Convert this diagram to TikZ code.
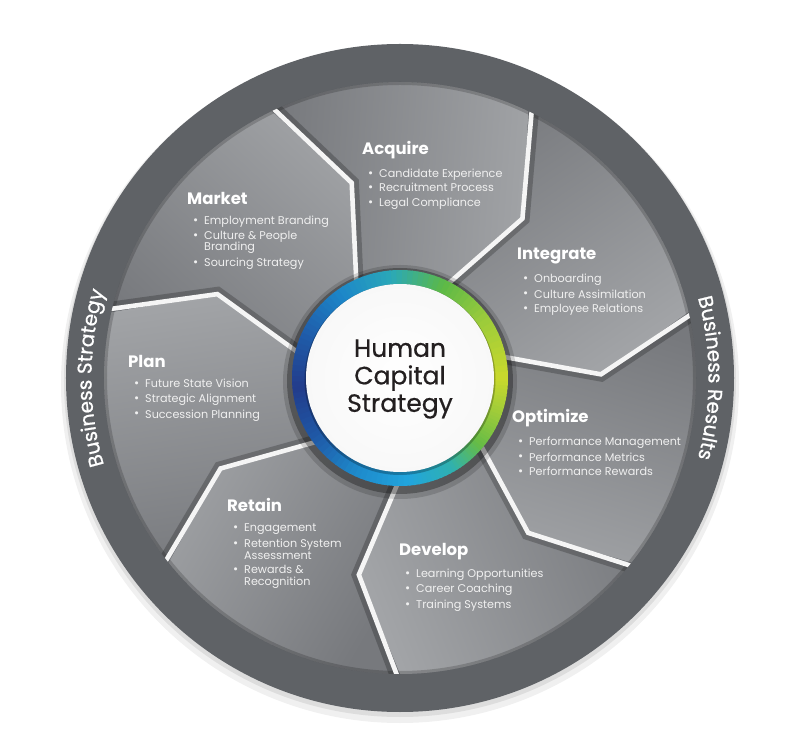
\documentclass[tikz,border=0pt]{standalone}
\usepackage{fontspec}
\setmainfont{Poppins}
\usetikzlibrary{decorations.text}
\definecolor{ringdark}{HTML}{5F6266}
\definecolor{segdark}{HTML}{77797D}
\definecolor{seglight}{HTML}{A2A4A7}
\definecolor{inktext}{HTML}{231F20}
\definecolor{rgA}{HTML}{C9D92C}
\definecolor{rgB}{HTML}{9BCB3B}
\definecolor{rgC}{HTML}{5CB947}
\definecolor{rgD}{HTML}{2AA8B8}
\definecolor{rgE}{HTML}{1C86C9}
\definecolor{rgF}{HTML}{1F5DAA}
\definecolor{rgG}{HTML}{223C8B}
\definecolor{rgH}{HTML}{1F58A6}
\definecolor{rgI}{HTML}{1E8ACB}
\definecolor{rgJ}{HTML}{21A5DD}
\definecolor{rgK}{HTML}{2FB1B0}
\definecolor{rgL}{HTML}{66BC46}
\definecolor{rgM}{HTML}{9ECB3A}
\pgfdeclareradialshading{hubshade}{\pgfpoint{0bp}{0bp}}{color(0bp)=(white); color(28bp)=(white!97!black); color(44bp)=(black!9); color(50bp)=(black!20)}
\newcommand\mytitle[1]{\hbox{\fontsize{16.5}{17}\selectfont\bfseries\color{white}#1}\vskip 8.5pt}
\newcommand\myitem[1]{\hbox{\hbox to 17pt{\kern6pt\fontsize{12.5}{12}\selectfont\raisebox{0.2pt}{•}\hss}#1}}
\newcommand\mycont[1]{\hbox{\kern17pt #1}}
\newcommand\mygap{\vskip 3pt}
\newcommand\mybody{\fontsize{11.2}{11.5}\selectfont}
\tikzset{
  seglabel/.style={anchor=base west, inner sep=0pt, text=white!94!black},
  divline/.style={white!96!black, line width=4.6pt, line join=miter},
  divshadow/.style={black, opacity=0.22, line width=8pt, line join=miter},
  ringlabel/.style={decorate, decoration={text along path, text align=center,
      text={|\fontsize{20}{20}\selectfont\addfontfeature{FakeBold=0.8}\color{white}|#1}}},
  centertext/.style={align=center, text=inktext, inner sep=0pt,
      font=\fontsize{25}{27.5}\selectfont\addfontfeature{FakeBold=0.6}}
}
\begin{document}
\begin{tikzpicture}[x=1pt,y=1pt]
\fill[white] (-400,-368) rectangle (400,378);
\useasboundingbox (-400,-368) rectangle (400,378);
% wheel drop shadow
\fill[black, opacity=0.06] (0,-6) circle (339);
\fill[black, opacity=0.08] (0,-3) circle (336);
% outer ring
\fill[ringdark] (0,0) circle (334);
% segments
\foreach \k in {0,...,6}{
  \pgfmathsetmacro\ta{115.7-\k*360/7}
  \pgfmathsetmacro\tb{\ta-360/7}
  \pgfmathsetmacro\ba{\ta-11.8}
  \pgfmathsetmacro\bb{\tb-11.8}
  \pgfmathsetmacro\mm{\ta-30}
  \shade[top color=segdark, bottom color=seglight, shading angle=\mm]
    (0,0) -- (\ta:100) -- (\ba:201) -- (\ta:296)
    arc[start angle=\ta, end angle=\tb, radius=296]
    -- (\bb:201) -- (\tb:100) -- cycle;
}
% inner shadow at ring edge and dividers
\begin{scope}
  \clip (0,0) circle (296);
  \draw[black, opacity=0.18, line width=6pt] (0,0) circle (296);
  \foreach \k in {0,...,6}{
    \pgfmathsetmacro\ta{115.7-\k*360/7}
    \pgfmathsetmacro\ba{\ta-11.8}
    \pgfmathsetmacro\sh{\ta-90}
    \draw[divshadow, shift={(\sh:3.5)}] (\ta:100) -- (\ba:201) -- (\ta:305);
    \draw[divline] (\ta:100) -- (\ba:201) -- (\ta:305);
  }
\end{scope}
% ring texts
\path[ringlabel={Business Strategy}] (200:308.5) arc[start angle=200, end angle=160, radius=308.5];
\path[ringlabel={Business Results}] (20:308.5) arc[start angle=20, end angle=-20, radius=308.5];
% segment texts
\node[seglabel] (acquire) at (-38,223) {\vtop{\mybody
  \mytitle{Acquire}
  \myitem{Candidate Experience}\mygap
  \myitem{Recruitment Process}\mygap
  \myitem{Legal Compliance}}};
\node[seglabel] (market) at (-213,173) {\vtop{\mybody
  \mytitle{Market}
  \myitem{Employment Branding}\mygap
  \myitem{Culture \& People}
  \mycont{Branding}\mygap
  \myitem{Sourcing Strategy}}};
\node[seglabel] (integrate) at (117,118) {\vtop{\mybody
  \mytitle{Integrate}
  \myitem{Onboarding}\mygap
  \myitem{Culture Assimilation}\mygap
  \myitem{Employee Relations}}};
\node[seglabel] (optimize) at (112,-45) {\vtop{\mybody
  \mytitle{Optimize}
  \myitem{Performance Management}\mygap
  \myitem{Performance Metrics}\mygap
  \myitem{Performance Rewards}}};
\node[seglabel] (develop) at (-1,-177) {\vtop{\mybody
  \mytitle{Develop}
  \myitem{Learning Opportunities}\mygap
  \myitem{Career Coaching}\mygap
  \myitem{Training Systems}}};
\node[seglabel] (retain) at (-173,-134) {\vtop{\mybody
  \mytitle{Retain}
  \myitem{Engagement}\mygap
  \myitem{Retention System}
  \mycont{Assessment}\mygap
  \myitem{Rewards \&}
  \mycont{Recognition}}};
\node[seglabel] (plan) at (-272,10) {\vtop{\mybody
  \mytitle{Plan}
  \myitem{Future State Vision}\mygap
  \myitem{Strategic Alignment}\mygap
  \myitem{Succession Planning}}};
% center hub
\fill[black, opacity=0.30] (0,-3) circle (113);
\fill[black, opacity=0.15] (0,-4) circle (117);
\foreach \aa/\ab/\ca/\cb in {0/35/rgA/rgB, 35/65/rgB/rgC, 65/95/rgC/rgD, 95/125/rgD/rgE,
    125/155/rgE/rgF, 155/185/rgF/rgG, 185/215/rgG/rgH, 215/245/rgH/rgI, 245/275/rgI/rgJ,
    275/300/rgJ/rgK, 300/320/rgK/rgL, 320/340/rgL/rgM, 340/360/rgM/rgA}{
  \foreach \jj in {0,...,9}{
    \pgfmathsetmacro\angA{\aa+(\ab-\aa)*\jj/10}
    \pgfmathsetmacro\angB{\aa+(\ab-\aa)*(\jj+1)/10+0.6}
    \pgfmathtruncatemacro\pp{100-\jj*10-5}
    \fill[\ca!\pp!\cb] (\angA:93) arc[start angle=\angA, end angle=\angB, radius=93]
      -- (\angB:108) arc[start angle=\angB, end angle=\angA, radius=108] -- cycle;
  }
}
\fill[black, opacity=0.25] (0,-1.5) circle (95.5);
\shade[shading=hubshade] (0,0) circle (94);
\node[centertext] (hub) at (0,-1) {Human\\Capital\\Strategy};
\end{tikzpicture}
\end{document}
